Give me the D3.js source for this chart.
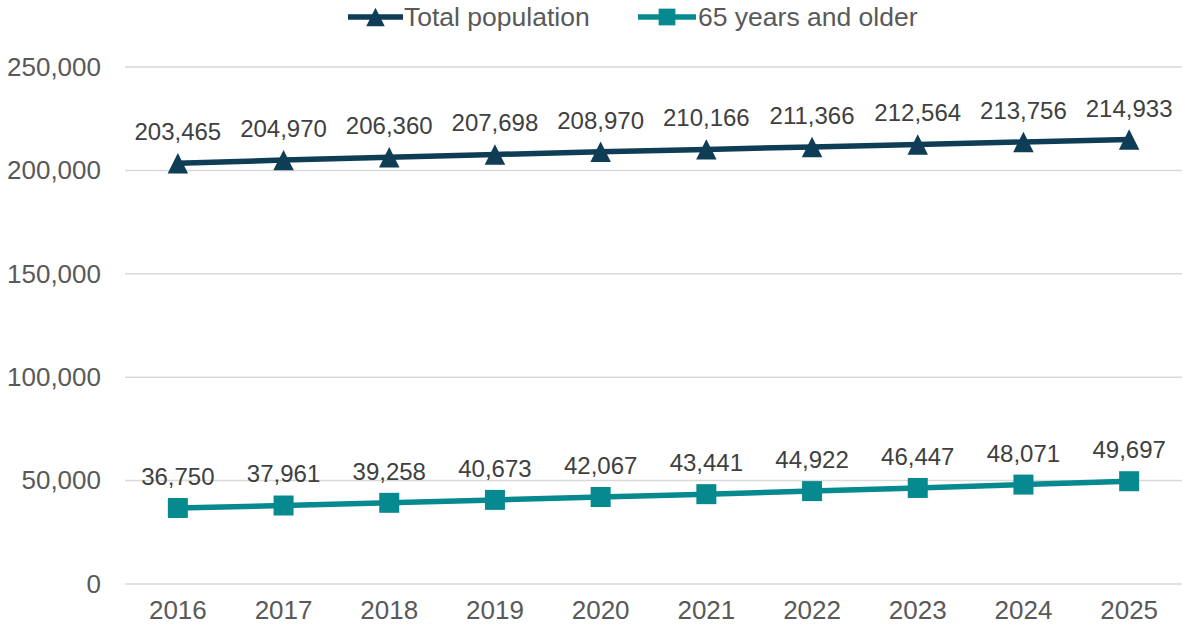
<!DOCTYPE html>
<html>
<head>
<meta charset="utf-8">
<script src="https://cdn.jsdelivr.net/npm/d3@7"></script>
<style>
  html, body { margin: 0; padding: 0; background: #fff; }
  svg { display: block; font-family: "Liberation Sans", Arial, sans-serif; }
</style>
</head>
<body>
<svg id="chart" width="1183" height="628"></svg>
<script>
// Population projections by year
const years = ["2016", "2017", "2018", "2019", "2020", "2021", "2022", "2023", "2024", "2025"];
const totalPopulation = [203465, 204970, 206360, 207698, 208970, 210166, 211366, 212564, 213756, 214933];
const olderPopulation = [36750, 37961, 39258, 40673, 42067, 43441, 44922, 46447, 48071, 49697];
const yTicks = [0, 50000, 100000, 150000, 200000, 250000];
const seriesNames = ["Total population", "65 years and older"];

const colors = ["#0e3d55", "#06898f"];
const textColor = "#595959";

const svg = d3.select("#chart");
const W = 1183, H = 628;
const margin = { left: 125, right: 1, top: 67, bottom: 44 };

const x = d3.scaleBand().domain(years).range([margin.left, W - margin.right]);
const y = d3.scaleLinear().domain([0, 250000]).range([H - margin.bottom, margin.top]);
const fmt = d3.format(",");

// Triangle marker as wide as it is tall, centred on the point
const symbolBoxTriangle = {
  draw(context, size) {
    const s = Math.sqrt(size) / 2;
    context.moveTo(0, -s);
    context.lineTo(s, s);
    context.lineTo(-s, s);
    context.closePath();
  }
};

// Gridlines
svg.append("g")
  .selectAll("line")
  .data(yTicks)
  .join("line")
  .attr("x1", margin.left)
  .attr("x2", W - margin.right)
  .attr("y1", d => y(d))
  .attr("y2", d => y(d))
  .attr("stroke", "#d9d9d9")
  .attr("stroke-width", 1.5);

// Y axis labels
const yAxis = d3.axisLeft(y).tickValues(yTicks).tickFormat(fmt).tickSize(0).tickPadding(24);
svg.append("g")
  .attr("transform", `translate(${margin.left},0)`)
  .call(yAxis)
  .call(g => g.select(".domain").remove())
  .call(g => g.selectAll("text")
    .attr("fill", textColor)
    .attr("font-size", 26)
    .attr("font-family", "Liberation Sans, Arial, sans-serif"));

// X axis labels
const xAxis = d3.axisBottom(x).tickSize(0).tickPadding(17);
svg.append("g")
  .attr("transform", `translate(0,${y(0)})`)
  .call(xAxis)
  .call(g => g.select(".domain").remove())
  .call(g => g.selectAll("text")
    .attr("fill", textColor)
    .attr("font-size", 26)
    .attr("font-family", "Liberation Sans, Arial, sans-serif"));

const cx = d => x(d) + x.bandwidth() / 2;
const series = [
  { name: seriesNames[0], values: totalPopulation, color: colors[0], symbol: symbolBoxTriangle, size: 420, legendSize: 340 },
  { name: seriesNames[1], values: olderPopulation, color: colors[1], symbol: d3.symbolSquare, size: 400, legendSize: 280 }
];

const line = d3.line().x(d => cx(d.year)).y(d => y(d.value));

series.forEach(s => {
  const pts = years.map((yr, i) => ({ year: yr, value: s.values[i] }));
  const g = svg.append("g");
  g.append("path")
    .datum(pts)
    .attr("d", line)
    .attr("fill", "none")
    .attr("stroke", s.color)
    .attr("stroke-width", 5.5)
    .attr("stroke-linejoin", "round");
  g.selectAll("path.marker")
    .data(pts)
    .join("path")
    .attr("class", "marker")
    .attr("d", d3.symbol().type(s.symbol).size(s.size))
    .attr("transform", d => `translate(${cx(d.year)},${y(d.value)})`)
    .attr("fill", s.color);
  g.selectAll("text.label")
    .data(pts)
    .join("text")
    .attr("class", "label")
    .attr("x", d => cx(d.year))
    .attr("y", d => y(d.value) - 23)
    .attr("text-anchor", "middle")
    .attr("fill", "#404040")
    .attr("font-size", 24)
    .text(d => fmt(d.value));
});

// Legend
const legendItems = [
  { x: 348, w: 55, textX: 404 },
  { x: 638, w: 58, textX: 698 }
];
series.forEach((s, i) => {
  const lg = svg.append("g");
  const it = legendItems[i];
  lg.append("line")
    .attr("x1", it.x).attr("x2", it.x + it.w)
    .attr("y1", 17).attr("y2", 17)
    .attr("stroke", s.color)
    .attr("stroke-width", 5.5);
  lg.append("path")
    .attr("d", d3.symbol().type(s.symbol).size(s.legendSize))
    .attr("transform", `translate(${it.x + it.w / 2},17)`)
    .attr("fill", s.color);
  lg.append("text")
    .attr("x", it.textX)
    .attr("y", 26)
    .attr("fill", textColor)
    .attr("font-size", 26.5)
    .text(s.name);
});
</script>
</body>
</html>
